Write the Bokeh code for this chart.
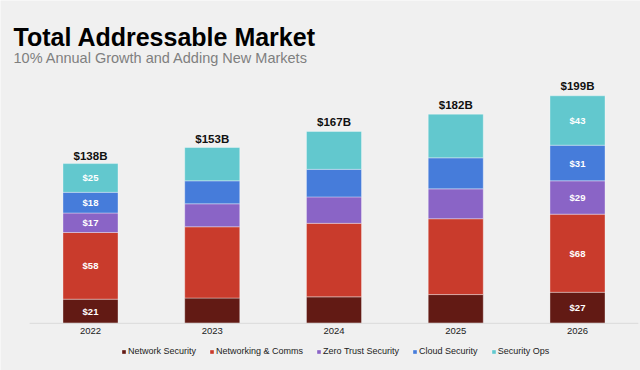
from bokeh.plotting import figure
from bokeh.models import ColumnDataSource, Range1d, LinearAxis, FixedTicker, Label
from bokeh.core.properties import value
from bokeh.embed import file_html
from bokeh.resources import INLINE

years = ["2022", "2023", "2024", "2025", "2026"]
series_names = ["Network Security", "Networking & Comms", "Zero Trust Security", "Cloud Security", "Security Ops"]
network_security = [21, 22, 23, 25, 27]
networking_comms = [58, 62, 64, 66, 68]
zero_trust = [17, 20, 23, 26, 29]
cloud_security = [18, 20, 24, 27, 31]
security_ops = [25, 29, 33, 38, 43]
totals = [138, 153, 167, 182, 199]
labeled_years = ["2022", "2026"]

colors = ["#621a14", "#c93b2c", "#8a64c6", "#467cda", "#62c8ce"]
keys = ["ns", "nc", "zt", "cs", "so"]
series = [network_security, networking_comms, zero_trust, cloud_security, security_ops]

BG = "#f0f0f0"
FONT = "Liberation Sans"

xs = list(range(len(years)))
data = {"x": xs, "year": years}
for k, s in zip(keys, series):
    data[k] = s
source = ColumnDataSource(data)

p = figure(width=640, height=370, output_backend="svg", toolbar_location=None,
           x_axis_type=None, y_axis_type=None,
           x_range=Range1d(-0.7392, 4.5175), y_range=Range1d(-41.08, 280.94),
           min_border=0, background_fill_color=BG, border_fill_color=BG)
p.outline_line_color = None

p.vbar_stack(keys, x="x", width=0.452, color=colors, source=source,
             legend_label=series_names, line_color="#ffffff", line_alpha=0.35, line_width=1)

# baseline
p.segment(x0=[xs[0] - 0.5], y0=[0], x1=[xs[-1] + 0.5], y1=[0], line_color="#dadada", line_width=1)

# year axis
ax = LinearAxis(fixed_location=0, ticker=FixedTicker(ticks=xs),
                major_label_overrides={i: y for i, y in enumerate(years)})
ax.axis_line_color = None
ax.major_tick_line_color = None
ax.minor_tick_line_color = None
ax.major_tick_out = 0
ax.major_tick_in = 0
ax.major_label_standoff = 5
ax.major_label_text_font = FONT
ax.major_label_text_font_size = "9.5px"
ax.major_label_text_color = "#222222"
p.add_layout(ax, "below")

# total labels
tsrc = ColumnDataSource({"x": xs, "y": totals, "t": ["$%dB" % t for t in totals]})
p.text(x="x", y="y", text="t", source=tsrc, text_align="center", text_baseline="bottom",
       y_offset=-3, text_font=value(FONT), text_font_style="bold", text_font_size="11.5px",
       text_color="#111111")

# segment labels
lx, ly, lt = [], [], []
for i, yr in enumerate(years):
    if yr not in labeled_years:
        continue
    bottom = 0
    for s in series:
        v = s[i]
        lx.append(i)
        ly.append(bottom + v / 2)
        lt.append("$%d" % v)
        bottom += v
lsrc = ColumnDataSource({"x": lx, "y": ly, "t": lt})
p.text(x="x", y="y", text="t", source=lsrc, text_align="center", text_baseline="middle",
       text_font=value(FONT), text_font_style="bold", text_font_size="9.5px", text_color="#ffffff")

# titles
p.add_layout(Label(x=13, y=334, x_units="screen", y_units="screen", text="Total Addressable Market",
                   text_font=FONT, text_font_style="bold", text_font_size="25px",
                   text_color="#000000", text_baseline="alphabetic"))
p.add_layout(Label(x=13, y=312.3, x_units="screen", y_units="screen",
                   text="10% Annual Growth and Adding New Markets",
                   text_font=FONT, text_font_size="14.5px", text_color="#7f7f7f",
                   text_baseline="alphabetic"))

lg = p.legend[0]
lg.orientation = "horizontal"
lg.location = (121, 14)
lg.background_fill_alpha = 0
lg.border_line_color = None
lg.padding = 0
lg.margin = 0
lg.spacing = 13
lg.glyph_width = 5
lg.glyph_height = 5
lg.label_standoff = 2
lg.label_height = 10
lg.label_width = 0
lg.label_text_font = FONT
lg.label_text_font_size = "9px"
lg.label_text_color = "#222222"

open("out.html", "w").write(file_html(p, INLINE))
